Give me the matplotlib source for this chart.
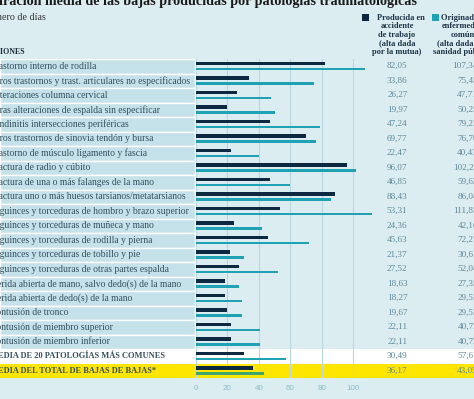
import numpy as np
import matplotlib
matplotlib.use('Agg')
import matplotlib.pyplot as plt
from matplotlib.patches import Rectangle

# Datos: duración media de las bajas (días)
lesiones = [
    'Trastorno interno de rodilla',
    'Otros trastornos y trast. articulares no especificados',
    'Alteraciones columna cervical',
    'Otras alteraciones de espalda sin especificar',
    'Tendinitis intersecciones periféricas',
    'Otros trastornos de sinovia tendón y bursa',
    'Trastorno de músculo ligamento y fascia',
    'Fractura de radio y cúbito',
    'Fractura de una o más falanges de la mano',
    'Fractura uno o más huesos tarsianos/metatarsianos',
    'Esguinces y torceduras de hombro y brazo superior',
    'Esguinces y torceduras de muñeca y mano',
    'Esguinces y torceduras de rodilla y pierna',
    'Esguinces y torceduras de tobillo y pie',
    'Esguinces y torceduras de otras partes espalda',
    'Herida abierta de mano, salvo dedo(s) de la mano',
    'Herida abierta de dedo(s) de la mano',
    'Contusión de tronco',
    'Contusión de miembro superior',
    'Contusión de miembro inferior',
    'MEDIA DE 20 PATOLOGÍAS MÁS COMUNES',
    'MEDIA DEL TOTAL DE BAJAS DE BAJAS*',
]
accidente = [82.05, 33.86, 26.27, 19.97, 47.24, 69.77, 22.47, 96.07, 46.85, 88.43, 53.31,
             24.36, 45.63, 21.37, 27.52, 18.63, 18.27, 19.67, 22.11, 22.11, 30.49, 36.17]
enfermedad = [107.34, 75.42, 47.71, 50.25, 79.23, 76.70, 40.43, 102.21, 59.62, 86.04, 111.83,
              42.16, 72.27, 30.61, 52.04, 27.35, 29.53, 29.53, 40.72, 40.72, 57.61, 43.05]
ticks = [0, 20, 40, 60, 80, 100]

W, H = 474, 399
bg = '#dcedf2'
celda = '#c5e2eb'
navy = '#0d2841'
teal = '#1fa2b4'
verde = '#3ca56c'
amarillo = '#ffe600'
gris_val = '#5d8897'

plt.rcParams['font.family'] = ['Liberation Serif', 'DejaVu Serif']

fig = plt.figure(figsize=(W / 100, H / 100), dpi=100)
fig.patch.set_facecolor(bg)

def fx(px):
    return px / W

def fy(py):
    return 1 - py / H

# ejes: 0 en x=196 px, 100 en x=353 px
ppu = 1.57
top, bot = 59, 378
ax = fig.add_axes([0, fy(bot), 1, (bot - top) / H])
ax.set_facecolor(bg)
ax.set_xlim(-196 / ppu, (W - 196) / ppu)
n = len(lesiones)
ax.set_ylim(n - 0.5, -0.5)
y = np.arange(n)

# fondos de filas
xmin = ax.get_xlim()[0]
for i in range(20):
    ax.add_patch(Rectangle((xmin, i - 0.5), -xmin - 0.4, 1, facecolor=celda,
                           edgecolor='white', lw=1, zorder=0))
ax.axhspan(19.5, 20.5, color='white', zorder=0, lw=0)
ax.axhspan(20.5, 21.5, color=amarillo, zorder=0, lw=0)

col_enf = [teal] * (n - 1) + [verde]
ax.barh(y - 0.19, accidente, height=0.24, color=navy, zorder=2)
ax.barh(y + 0.19, enfermedad, height=0.2, color=col_enf, zorder=2)

ax.set_axisbelow(True)
ax.set_xticks(ticks)
ax.set_yticks([])
ax.grid(axis='x', color='#b7d7e2', lw=0.8)
for s in ax.spines.values():
    s.set_visible(False)
ax.tick_params(axis='x', length=0, pad=5, labelsize=5.8, labelcolor='#86bccb')
for lab in ax.get_xticklabels():
    lab.set_family(['Liberation Sans', 'DejaVu Sans'])

tr = ax.get_yaxis_transform()
for i, lab in enumerate(lesiones):
    negrita = i >= 20
    ax.text(-9.5 / W, i, lab, transform=tr, ha='left', va='center',
            fontsize=6.9 if not negrita else 6.0, color='#34505e',
            fontweight='bold' if negrita else 'normal', clip_on=False)
    ax.text(407.5 / W, i, f'{accidente[i]:.2f}'.replace('.', ','), transform=tr,
            ha='right', va='center', fontsize=6.6, color=gris_val)
    ax.text(478 / W, i, f'{enfermedad[i]:.2f}'.replace('.', ','), transform=tr,
            ha='right', va='center', fontsize=6.6, color=gris_val)

# títulos
fig.text(fx(-15), fy(5), 'Duración media de las bajas producidas por patologías traumatológicas',
         ha='left', va='baseline', fontsize=10.2, fontweight='bold', color='#1a1a1a')
fig.text(fx(-18), fy(18), 'Número de días', ha='left', va='center', fontsize=7.2, color='#333333')
fig.text(fx(-14), fy(52), 'LESIONES', ha='left', va='center', fontsize=5.8,
         fontweight='bold', color='#1f2f3a')

# leyenda
leg1 = ['Producida en', 'accidente', 'de trabajo', '(alta dada', 'por la mutua)']
leg2 = ['Originada por', 'enfermedad', 'común', '(alta dada por', 'sanidad pública)']
for cx, lines, sq, c in [(397, leg1, 362, navy), (463, leg2, 432, teal)]:
    fig.patches.append(Rectangle((fx(sq), fy(21)), 7 / W, 7 / H, transform=fig.transFigure,
                                 facecolor=c, edgecolor='none'))
    for k, t in enumerate(lines):
        dx = 4 if k == 0 else 0
        fig.text(fx(cx + dx), fy(18 + 8.5 * k), t, ha='center', va='center',
                 fontsize=6.0, fontweight='bold', color='#1d3447')

fig.savefig('out.png', dpi=100, facecolor=bg)
